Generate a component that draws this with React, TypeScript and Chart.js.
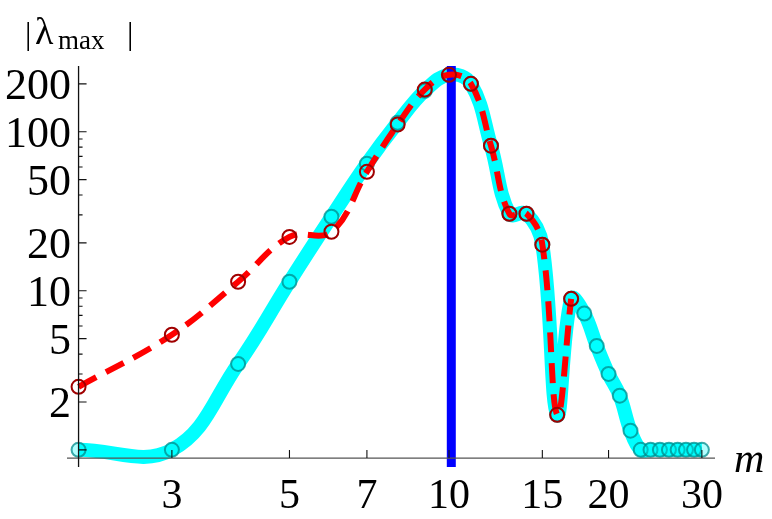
import { useEffect, useRef } from "react";
import { Chart, registerables } from "chart.js";

Chart.register(...registerables);

// m values (log axis) and |lambda_max|
const mValues = [2, 3, 4, 5, 6, 7, 8, 9, 10, 11, 12, 13, 14, 15, 16, 17, 18, 19, 20, 21, 22, 23, 24, 25, 26, 27, 28, 29, 30];
const cyanValues = [1.0, 1.0, 3.47, 11.4, 29.2, 63, 114, 181, 228, 200, 81.7, 30.5, 30.5, 19.5, 1.66, 8.9, 7.2, 4.5, 3.0, 2.19, 1.32, 1, 1, 1, 1, 1, 1, 1, 1];
const redM = [2, 3, 4, 5, 6, 7, 8, 9, 10, 11, 12, 13, 14, 15, 16, 17];
const redValues = [2.49, 5.29, 11.4, 21.8, 23.5, 56, 111, 184, 228, 200, 81.7, 30.5, 30.5, 19.5, 1.66, 8.9];
const peakM = 10.1;

const xTicks = [3, 5, 7, 10, 15, 20, 30];
const yMajorTicks = [1, 2, 5, 10, 20, 50, 100, 200];
const yLabelTicks = [2, 5, 10, 20, 50, 100, 200];
const yMinorTicks = [3, 4, 6, 7, 8, 9, 30, 40, 60, 70, 80, 90];

const X_MIN = 1.902, X_MAX = 31.76;
const Y_MIN = 0.78, Y_MAX = 259;
const AXIS_X = 2;     // y axis sits at m = 2
const AXIS_Y = 0.888; // x axis sits just under 1

const FONT = "'Liberation Serif', 'DejaVu Serif', serif";

const axesPlugin = {
  id: "mathAxes",
  afterDatasetsDraw(chart: Chart) {
    const { ctx, chartArea } = chart;
    const xs = chart.scales.x;
    const ys = chart.scales.y;
    const x0 = xs.getPixelForValue(AXIS_X);
    const y0 = ys.getPixelForValue(AXIS_Y);
    ctx.save();
    ctx.lineWidth = 1.3;
    // x axis
    ctx.strokeStyle = "#555";
    ctx.beginPath();
    ctx.moveTo(chartArea.left, y0);
    ctx.lineTo(chartArea.right, y0);
    ctx.stroke();
    // y axis
    ctx.strokeStyle = "#111";
    ctx.beginPath();
    ctx.moveTo(x0, chartArea.top);
    ctx.lineTo(x0, chartArea.bottom);
    ctx.stroke();

    ctx.strokeStyle = "#111";
    ctx.lineWidth = 1.1;
    ctx.beginPath();
    for (const v of xTicks) {
      const px = xs.getPixelForValue(v);
      ctx.moveTo(px, y0);
      ctx.lineTo(px, y0 - 8);
    }
    for (const v of yMajorTicks) {
      const py = ys.getPixelForValue(v);
      ctx.moveTo(x0, py);
      ctx.lineTo(x0 + 8, py);
    }
    for (const v of yMinorTicks) {
      const py = ys.getPixelForValue(v);
      ctx.moveTo(x0, py);
      ctx.lineTo(x0 + 4, py);
    }
    ctx.stroke();

    ctx.fillStyle = "#000";
    ctx.font = `44px ${FONT}`;
    ctx.textBaseline = "alphabetic";
    ctx.textAlign = "right";
    for (const v of yLabelTicks) {
      ctx.fillText(String(v), 71, ys.getPixelForValue(v) + 15);
    }
    ctx.font = `42px ${FONT}`;
    ctx.textAlign = "center";
    for (const v of xTicks) {
      ctx.fillText(String(v), xs.getPixelForValue(v), 508);
    }
    ctx.textAlign = "left";
    ctx.font = `italic 42px ${FONT}`;
    ctx.fillText("m", 734, 472);

    // y label |λ_max|
    ctx.font = `32px ${FONT}`;
    ctx.fillText("|", 25, 44);
    ctx.font = `38px ${FONT}`;
    ctx.fillText("λ", 35, 44);
    ctx.font = `27px ${FONT}`;
    ctx.fillText("max", 58, 49);
    ctx.font = `32px ${FONT}`;
    ctx.fillText("|", 127, 44);
    ctx.restore();
  },
};

export default function App() {
  const ref = useRef<HTMLCanvasElement>(null);

  useEffect(() => {
    if (!ref.current) return;
    const chart = new Chart(ref.current, {
      type: "line",
      data: {
        datasets: [
          {
            label: "cyan",
            data: mValues.map((m, i) => ({ x: m, y: cyanValues[i] })),
            borderColor: "#00ffff",
            borderWidth: 14,
            tension: 0.4,
            pointRadius: 7,
            pointBorderWidth: 2,
            pointBorderColor: "rgba(0,140,140,0.75)",
            pointBackgroundColor: "rgba(0,255,255,0.3)",
            order: 3,
          },
          {
            label: "peak",
            data: [{ x: peakM, y: Y_MIN }, { x: peakM, y: Y_MAX }],
            borderColor: "#0000ff",
            borderWidth: 9,
            pointRadius: 0,
            order: 2,
          },
          {
            label: "red",
            data: redM.map((m, i) => ({ x: m, y: redValues[i] })),
            borderColor: "#ff0000",
            borderWidth: 6,
            borderDash: [20, 11],
            tension: 0.4,
            pointRadius: 7,
            pointBorderWidth: 2,
            pointBorderColor: "#a00000",
            pointBackgroundColor: "rgba(0,0,0,0)",
            order: 1,
          },
        ],
      },
      options: {
        responsive: true,
        maintainAspectRatio: false,
        animation: false,
        layout: { padding: { left: 67, right: 57, top: 66, bottom: 52 } },
        plugins: { legend: { display: false }, tooltip: { enabled: false } },
        scales: {
          x: { type: "logarithmic", min: X_MIN, max: X_MAX, display: false },
          y: { type: "logarithmic", min: Y_MIN, max: Y_MAX, display: false },
        },
      },
      plugins: [axesPlugin],
    });
    return () => chart.destroy();
  }, []);

  return (
    <div style={{ position: "fixed", left: 0, top: 0, width: 772, height: 519, background: "#fff" }}>
      <canvas ref={ref} role="img" aria-label="Log-log plot of |lambda_max| versus m" />
    </div>
  );
}
